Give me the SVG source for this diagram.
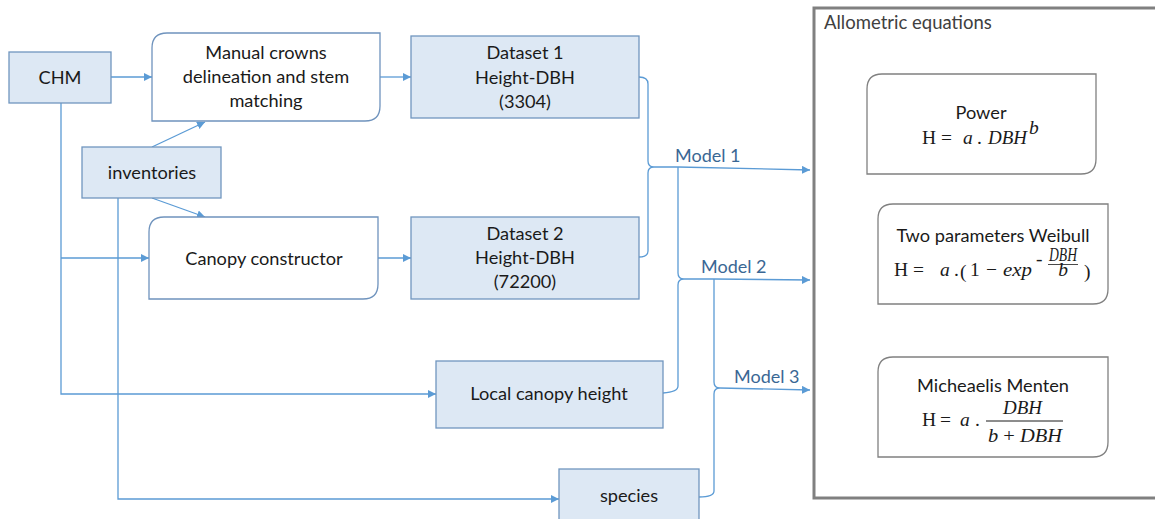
<svg xmlns="http://www.w3.org/2000/svg" width="1155" height="519" viewBox="0 0 1155 519">
<style>
.box{fill:#dde8f4;stroke:#7096bf;stroke-width:1.3}
.rbox{fill:#ffffff;stroke:#6f93bd;stroke-width:1.3}
.gbox{fill:#ffffff;stroke:#808080;stroke-width:1.3}
.t{font-family:Lato,"Open Sans","Liberation Sans",sans-serif;font-size:18.2px;fill:#1a1a1a;text-anchor:middle}
.lbl{font-family:Lato,"Open Sans","Liberation Sans",sans-serif;font-size:18px;fill:#3a6794}
.m{font-family:"Liberation Serif","DejaVu Serif",serif;font-size:19.5px;fill:#1a1a1a}
.mi{font-style:italic}
.c{fill:none;stroke:#5b9bd5;stroke-width:1.3}
</style>
<defs>
<marker id="ah" viewBox="0 0 10 10" refX="10" refY="5" markerWidth="8" markerHeight="8" markerUnits="userSpaceOnUse" orient="auto">
<path d="M0,0 L10,5 L0,10 z" fill="#5b9bd5"/>
</marker>
</defs>

<g id="allometric">
<rect x="814" y="8" width="345" height="490" fill="none" stroke="#808080" stroke-width="3"/>
<text x="824" y="29" style="font-family:Lato,'Open Sans','Liberation Sans',sans-serif;font-size:18.5px;fill:#404040">Allometric equations</text>
</g>

<g id="connectors">
<path class="c" d="M111,77 L152,77" marker-end="url(#ah)"/>
<path class="c" d="M152,147 L205,122" marker-end="url(#ah)"/>
<path class="c" d="M152,198 L205,217" marker-end="url(#ah)"/>
<path class="c" d="M380,77 L411,77" marker-end="url(#ah)"/>
<path class="c" d="M378,258 L411,258" marker-end="url(#ah)"/>
<path class="c" d="M61,103 L61,394 L436,394" marker-end="url(#ah)"/>
<path class="c" d="M61,258 L149,258" marker-end="url(#ah)"/>
<path class="c" d="M118,198 L118,499 L559,499" marker-end="url(#ah)"/>
<!-- brace 1 -->
<path class="c" d="M639,77 Q648,77 648,84 L648,161 Q648,167 654,167 Q648,167 648,173 L648,251 Q648,257 639,257"/>
<path class="c" d="M654,167 L678,167 L810,170" marker-end="url(#ah)"/>
<!-- brace 2 -->
<path class="c" d="M678,167 L678,273 Q678,279 684,279 Q678,279 678,285 L678,386 Q678,392 663,393"/>
<path class="c" d="M684,279 L714,279 L810,280" marker-end="url(#ah)"/>
<!-- brace 3 -->
<path class="c" d="M714,279 L714,382 Q714,388 720,388 Q714,388 714,394 L714,491 Q714,497 699,497"/>
<path class="c" d="M720,388 L810,390" marker-end="url(#ah)"/>
<text class="lbl" x="675" y="162">Model 1</text>
<text class="lbl" x="701" y="273">Model 2</text>
<text class="lbl" x="734" y="383">Model 3</text>
</g>

<g id="chm">
<rect class="box" x="9" y="52" width="102" height="51"/>
<text class="t" x="60" y="84">CHM</text>
</g>

<g id="manual">
<path class="rbox" d="M167,33 L380,33 L380,106 Q380,121 365,121 L152,121 L152,48 Q152,33 167,33 z"/>
<text class="t" x="266" y="59">Manual crowns</text>
<text class="t" x="266" y="83">delineation and stem</text>
<text class="t" x="266" y="107">matching</text>
</g>

<g id="inventories">
<rect class="box" x="82" y="147" width="139" height="51"/>
<text class="t" x="152" y="179">inventories</text>
</g>

<g id="canopy">
<path class="rbox" d="M164,217 L378,217 L378,284 Q378,299 363,299 L149,299 L149,232 Q149,217 164,217 z"/>
<text class="t" x="264" y="265">Canopy constructor</text>
</g>

<g id="dataset1">
<rect class="box" x="411" y="36" width="228" height="82"/>
<text class="t" x="525" y="59">Dataset 1</text>
<text class="t" x="525" y="84">Height-DBH</text>
<text class="t" x="525" y="108">(3304)</text>
</g>

<g id="dataset2">
<rect class="box" x="411" y="217" width="228" height="82"/>
<text class="t" x="525" y="240">Dataset 2</text>
<text class="t" x="525" y="264">Height-DBH</text>
<text class="t" x="525" y="288">(72200)</text>
</g>

<g id="local">
<rect class="box" x="436" y="361" width="227" height="67"/>
<text class="t" x="549" y="400">Local canopy height</text>
</g>

<g id="species">
<rect class="box" x="559" y="469" width="140" height="60"/>
<text class="t" x="629" y="502">species</text>
</g>

<g id="power">
<path class="gbox" d="M882,74 L1096,74 L1096,159 Q1096,174 1081,174 L867,174 L867,89 Q867,74 882,74 z"/>
<text class="t" x="981" y="119">Power</text>
<text class="m" x="922" y="144">H</text>
<text class="m" x="941" y="144">=</text>
<text class="m mi" x="963" y="144">a</text>
<text class="m" x="977" y="144">.</text>
<text class="m mi" x="988" y="144" textLength="39" lengthAdjust="spacingAndGlyphs">DBH</text>
<text class="m mi" x="1029" y="134" font-size="13">b</text>
</g>

<g id="weibull">
<path class="gbox" d="M893,204 L1108,204 L1108,289 Q1108,304 1093,304 L878,304 L878,219 Q878,204 893,204 z"/>
<text class="t" x="993" y="242">Two parameters Weibull</text>
<text class="m" x="894" y="276">H</text>
<text class="m" x="913" y="276">=</text>
<text class="m mi" x="940" y="276">a</text>
<text class="m" x="954" y="276">.</text>
<text class="m" x="960" y="278" font-size="23">(</text>
<text class="m" x="970" y="276">1</text>
<text class="m" x="986" y="276">−</text>
<text class="m mi" x="1003" y="276" textLength="29" lengthAdjust="spacingAndGlyphs">exp</text>
<text class="m" x="1036" y="265" font-size="11">-</text>
<text class="m mi" x="1049" y="261" font-size="11" textLength="28" lengthAdjust="spacingAndGlyphs">DBH</text>
<line x1="1048" y1="264.5" x2="1078" y2="264.5" stroke="#1a1a1a" stroke-width="0.8"/>
<text class="m mi" x="1063" y="276" font-size="10" text-anchor="middle">b</text>
<text class="m" x="1084" y="278" font-size="23">)</text>
</g>

<g id="menten">
<path class="gbox" d="M893,357 L1108,357 L1108,442 Q1108,457 1093,457 L878,457 L878,372 Q878,357 893,357 z"/>
<text class="t" x="993" y="392">Micheaelis Menten</text>
<text class="m" x="922" y="426">H</text>
<text class="m" x="940" y="426">=</text>
<text class="m mi" x="960" y="426">a</text>
<text class="m" x="975" y="426">.</text>
<text class="m mi" x="1003" y="414" textLength="39" lengthAdjust="spacingAndGlyphs">DBH</text>
<line x1="986" y1="421" x2="1063" y2="421" stroke="#1a1a1a" stroke-width="1"/>
<text class="m" x="988" y="442" textLength="74" lengthAdjust="spacingAndGlyphs"><tspan class="mi">b</tspan> + <tspan class="mi">DBH</tspan></text>
</g>
</svg>
